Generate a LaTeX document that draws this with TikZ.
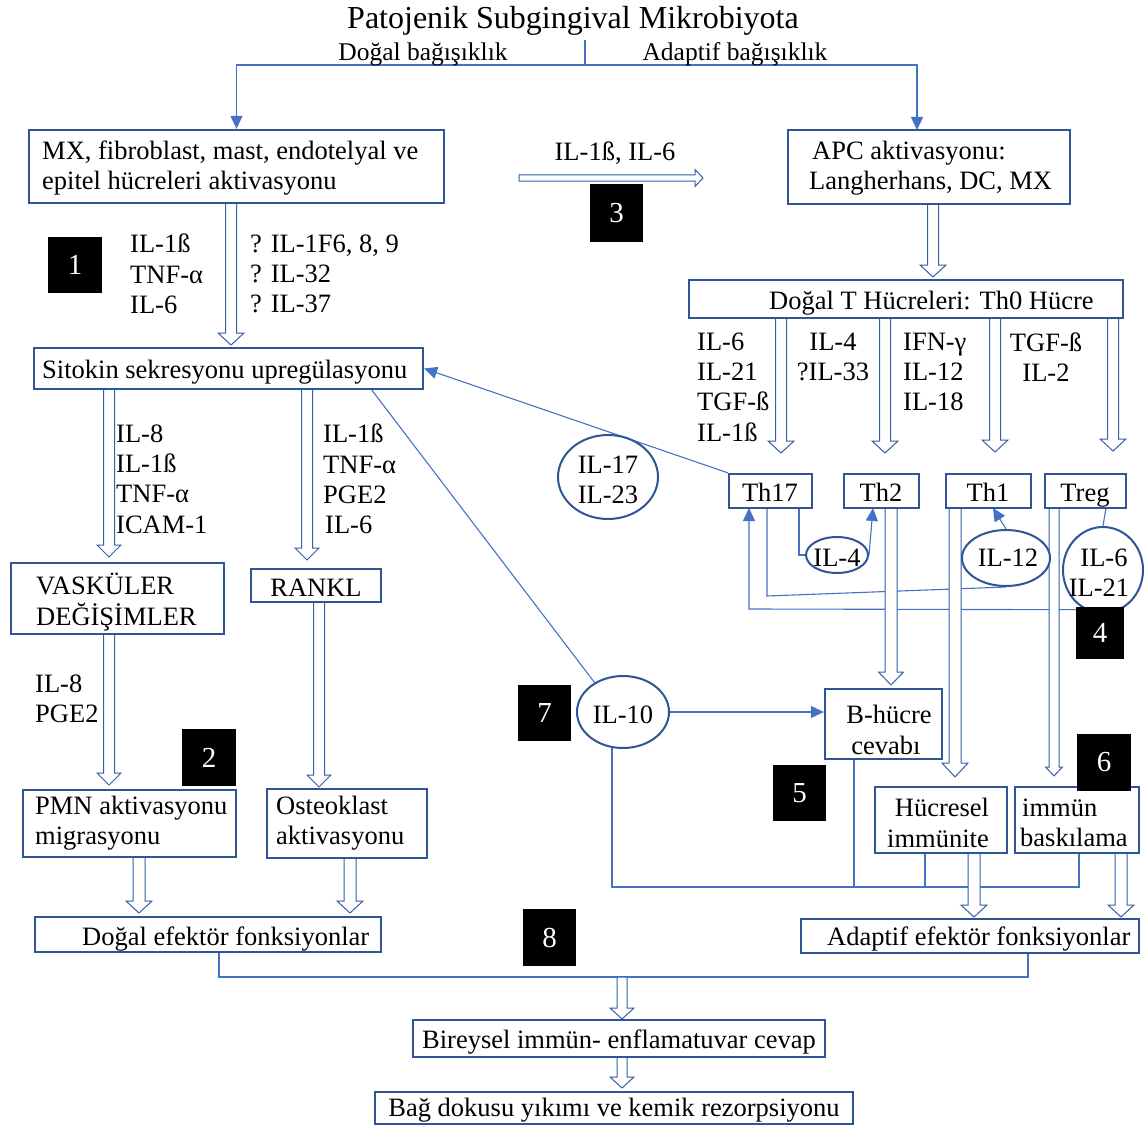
\documentclass[tikz,border=0pt]{standalone}
\usepackage{fontspec}
\setmainfont{Liberation Serif}
\usetikzlibrary{shapes.geometric,arrows.meta}
\definecolor{boxc}{HTML}{2F5597}
\definecolor{linec}{HTML}{4472C4}
\definecolor{harc}{HTML}{3560A8}
\newcommand\fs{\fontsize{26.5}{30.3}\selectfont}
\pgfdeclarelayer{bg}
\pgfdeclarelayer{mid}
\pgfsetlayers{bg,mid,main}
% box: name, x1, y1, x2, y2
\newcommand\bx[5]{\node[box,minimum width={#4-#2},minimum height={#5-#3}] (#1) at ({(#2+#4)/2},{(#3+#5)/2}) {};}
% number box: name, x1, y1, x2, y2, text
\newcommand\nb[6]{\node[numbox,minimum width={#4-#2},minimum height={#5-#3}] (#1) at ({(#2+#4)/2},{(#3+#5)/2}) {#6};}
% hollow arrow down: x, ystart, ytip, half shaft, half head, head length
\newcommand\varrow[6]{\draw[harrow] (#1-#4,#2) -- (#1-#4,#3-#6) -- (#1-#5,#3-#6) -- (#1,#3) -- (#1+#5,#3-#6) -- (#1+#4,#3-#6) -- (#1+#4,#2) -- cycle;}
% hollow arrow right: y, xstart, xtip, half shaft, half head, head length
\newcommand\harrowr[6]{\draw[harrow] (#2,#1-#4) -- (#3-#6,#1-#4) -- (#3-#6,#1-#5) -- (#3,#1) -- (#3-#6,#1+#5) -- (#3-#6,#1+#4) -- (#2,#1+#4) -- cycle;}
\begin{document}
\begin{tikzpicture}[x=1pt,y=-1pt,
 box/.style={draw=boxc,line width=2.3pt,fill=white,inner sep=0pt},
 numbox/.style={fill=black,text=white,inner sep=0pt,font=\fontsize{29}{32}\selectfont},
 ell/.style={ellipse,draw=boxc,line width=2pt,fill=white,inner sep=0pt},
 conn/.style={draw=linec,line width=1.1pt},
 tipc/.style={-{Triangle[length=13pt,width=12pt]}},
 harrow/.style={draw=harc,line width=1pt,fill=white,line join=miter},
 txt/.style={inner sep=0pt,font=\fs,align=left,anchor=west,yshift=-2pt},
 ctxt/.style={inner sep=0pt,font=\fs,align=center,yshift=-2pt},
 btxt/.style={inner sep=0pt,font=\fs,anchor=base},
]
\useasboundingbox (0,0) rectangle (1146,1126);
\begin{pgfonlayer}{bg}
\fill[white] (0,0) rectangle (1146,1126);
\end{pgfonlayer}

% ---------- titles ----------
\node[inner sep=0pt,font=\fontsize{32}{36}\selectfont,yshift=-2pt] (title) at (573,19) {Patojenik Subgingival Mikrobiyota};
\node[inner sep=0pt,font=\fontsize{25.5}{28}\selectfont,yshift=-2pt] (dbag) at (423,52) {Doğal bağışıklık};
\node[inner sep=0pt,font=\fontsize{25.5}{28}\selectfont,yshift=-2pt] (abag) at (735,52) {Adaptif bağışıklık};

% ---------- boxes ----------
\bx{mx}{29}{130}{444}{203}
\bx{sito}{34}{348}{423}{389}
\bx{apc}{788}{130}{1070}{204}
\bx{th0}{689}{280}{1123}{318}
\bx{th17}{729}{474}{812}{508}
\bx{th2}{844}{474}{919}{508}
\bx{th1}{946}{474}{1031}{508}
\bx{treg}{1045}{474}{1126}{508}
\bx{vask}{11}{563}{224}{634}
\bx{rankl}{251}{569}{381}{602}
\bx{pmn}{23}{790}{236}{857}
\bx{osteo}{267}{789}{427}{858}
\bx{dogal}{35}{917}{381}{952}
\bx{bhuc}{825}{689}{942}{759}
\bx{hucr}{875}{787}{1007}{853}
\bx{immun}{1015}{787}{1139}{853}
\bx{adap}{801}{919}{1139}{953}
\bx{birey}{413}{1020}{825}{1057}
\bx{bag}{375}{1092}{853}{1124}

% ---------- ellipses ----------
\node[ell,minimum width=100,minimum height=84] (il1723) at (608,477) {};
\node[ell,minimum width=62,minimum height=36] (il4) at (837,555) {};
\node[ell,minimum width=88,minimum height=56] (il12) at (1006,558) {};
\node[ell,minimum width=80,minimum height=86] (il621) at (1103,570) {};
\node[ell,minimum width=92,minimum height=72] (il10) at (623,712) {};

% ---------- texts in boxes ----------
\node[txt] (tmx) at (42,166) {MX, fibroblast, mast, endotelyal ve\\epitel hücreleri aktivasyonu};
\node[txt] (tsito) at (42,370) {Sitokin sekresyonu upregülasyonu};
\node[txt] (tapc) at (809,166) {\hspace*{3pt}APC aktivasyonu:\\Langherhans, DC, MX};
\node[txt] (tth0) at (769,301) {Doğal T Hücreleri: Th0 Hücre};
\node[btxt] (tth17) at (770,501) {Th17};
\node[btxt] (tth2) at (881,501) {Th2};
\node[btxt] (tth1) at (988,501) {Th1};
\node[btxt] (ttreg) at (1085,501) {Treg};
\node[txt] (tvask) at (36,600) {VASKÜLER\\DEĞİŞİMLER};
\node[ctxt] (trankl) at (316,586) {RANKL};
\node[txt] (tpmn) at (35,821) {PMN aktivasyonu\\migrasyonu};
\node[txt] (tosteo) at (276,821) {Osteoklast\\aktivasyonu};
\node[txt] (tdogal) at (82,937) {Doğal efektör fonksiyonlar};
\node[ctxt] (tbhuc) at (886,728) {\hspace*{6pt}B-hücre\\cevabı};
\node[ctxt] (thucr) at (938,821) {\hspace*{8pt}Hücresel\\immünite};
\node[txt] (timmun) at (1020,821) {\hspace*{2pt}immün\\baskılama};
\node[txt] (tadap) at (827,937) {Adaptif efektör fonksiyonlar};
\node[ctxt] (tbirey) at (619,1040) {Bireysel immün- enflamatuvar cevap};
\node[ctxt] (tbag) at (614,1108) {Bağ dokusu yıkımı ve kemik rezorpsiyonu};

% ---------- ellipse texts ----------
\node[ctxt] (til1723) at (608,478) {IL-17\\ IL-23};
\node[ctxt] (til4) at (837,556) {IL-4};
\node[ctxt] (til12) at (1008,556) {IL-12};
\node[ctxt] (til621) at (1099,571) {\hspace*{10pt}IL-6\\IL-21};
\node[ctxt] (til10) at (623,713) {IL-10};

% ---------- free labels ----------
\node[ctxt] (l3) at (615,151) {IL-1ß, IL-6};
\node[txt] (l1a) at (130,272) {IL-1ß\\TNF-α\\IL-6};
\node[txt] (l1b) at (250,272) {? IL-1F6, 8, 9\\? IL-32\\? IL-37};
\node[txt] (l2a) at (116,477) {IL-8\\IL-1ß\\TNF-α\\ICAM-1};
\node[txt] (l2b) at (323,477) {IL-1ß\\TNF-α\\PGE2\\\hspace*{2pt}IL-6};
\node[txt] (l2c) at (35,697) {IL-8\\PGE2};
\node[txt] (lt1) at (697,385) {IL-6\\IL-21\\TGF-ß\\IL-1ß};
\node[ctxt] (lt2) at (833,355) {IL-4\\?IL-33};
\node[txt] (lt3) at (903,370) {IFN-γ\\IL-12\\IL-18};
\node[ctxt] (lt4) at (1046,355) {TGF-ß\\IL-2};

% ---------- number boxes ----------
\nb{n1}{48}{237}{102}{293}{1}
\nb{n3}{590}{184}{643}{242}{3}
\nb{n4}{1076}{607}{1124}{659}{4}
\nb{n7}{518}{685}{571}{741}{7}
\nb{n2}{182}{729}{236}{786}{2}
\nb{n5}{773}{765}{826}{821}{5}
\nb{n6}{1077}{734}{1131}{791}{6}
\nb{n8}{523}{909}{576}{966}{8}

% ---------- coordinates ----------
\coordinate (stem) at (585,40);
\coordinate (split) at (585,65);
\coordinate (apcin) at (917,130);
\coordinate (sd) at (371,389);
\coordinate (t17a) at (799,508);
\coordinate (t2in) at (873,508);
\coordinate (t1in) at (993,508);
\coordinate (trb) at (1106,508);
\coordinate (t17b) at (767,508);
\coordinate (t17c) at (767,596);
\coordinate (t17in) at (749,508);
\coordinate (c4) at (749,609);
\coordinate (bus) at (0,887);
\coordinate (bhb) at (854,759);
\coordinate (hcb) at (925,853);
\coordinate (imb) at (1079,853);
\coordinate (bus2) at (0,977);
\coordinate (dgb) at (219,952);
\coordinate (adb) at (1028,953);

% ---------- thin connectors ----------
\begin{pgfonlayer}{bg}
\draw[conn] (stem) -- (split);
\draw[conn,tipc] (split) -| (mx.north);
\draw[conn,tipc] (split) -| (apcin);
\draw[conn,tipc] (th17.north west) -- (sito.east);
\draw[conn] (sd) -- (il10.134);
\draw[conn,tipc] (il10.east) -- (il10.east -| bhuc.west);
\draw[conn] (il10.253) -- (il10.253 |- bus) -- (imb |- bus) -- (imb);
\draw[conn] (bhb) -- (bhb |- bus);
\draw[conn] (hcb) -- (hcb |- bus);
\draw[conn] (dgb) -- (dgb |- bus2) -- (adb |- bus2) -- (adb);
\draw[conn] (t17a) |- (il4.west);
\draw[conn,tipc] (il4.east) -- (t2in);
\draw[conn,tipc] (il12.north) -- (t1in);
\draw[conn] (trb) -- (il621.north);
\draw[conn] (t17b) -- (t17c) -- (il12.south);
\draw[conn,tipc] (il621.246) -- (c4) -- (t17in);
\end{pgfonlayer}

% ---------- hollow arrows ----------
\begin{pgfonlayer}{mid}
\varrow{231}{203}{345}{5.5}{13}{12}
\harrowr{178}{519}{703}{3.2}{8.5}{8}
\varrow{933}{204}{277}{5.5}{13}{12}
\varrow{781}{318}{453}{5.5}{13}{12}
\varrow{885}{318}{453}{5.5}{13}{12}
\varrow{995}{318}{452}{5.5}{13}{12}
\varrow{1113}{318}{451}{5.5}{13}{12}
\varrow{109}{389}{557}{5.5}{12}{12}
\varrow{307}{389}{560}{5.5}{12}{12}
\varrow{109}{634}{785}{5.5}{12}{12}
\varrow{319}{602}{787}{5.5}{12}{12}
\varrow{139}{857}{913}{6}{13}{12}
\varrow{350}{858}{913}{6}{13}{12}
\varrow{891}{508}{685}{6}{12.5}{13}
\varrow{955}{508}{777}{6}{13}{14}
\varrow{1054}{508}{776}{5}{8.5}{9}
\varrow{974}{853}{917}{6}{13}{12}
\varrow{1121}{853}{917}{6}{13}{12}
\varrow{622}{977}{1019}{5}{12}{11}
\varrow{622}{1057}{1088}{5}{12}{11}
\end{pgfonlayer}
\end{tikzpicture}
\end{document}
